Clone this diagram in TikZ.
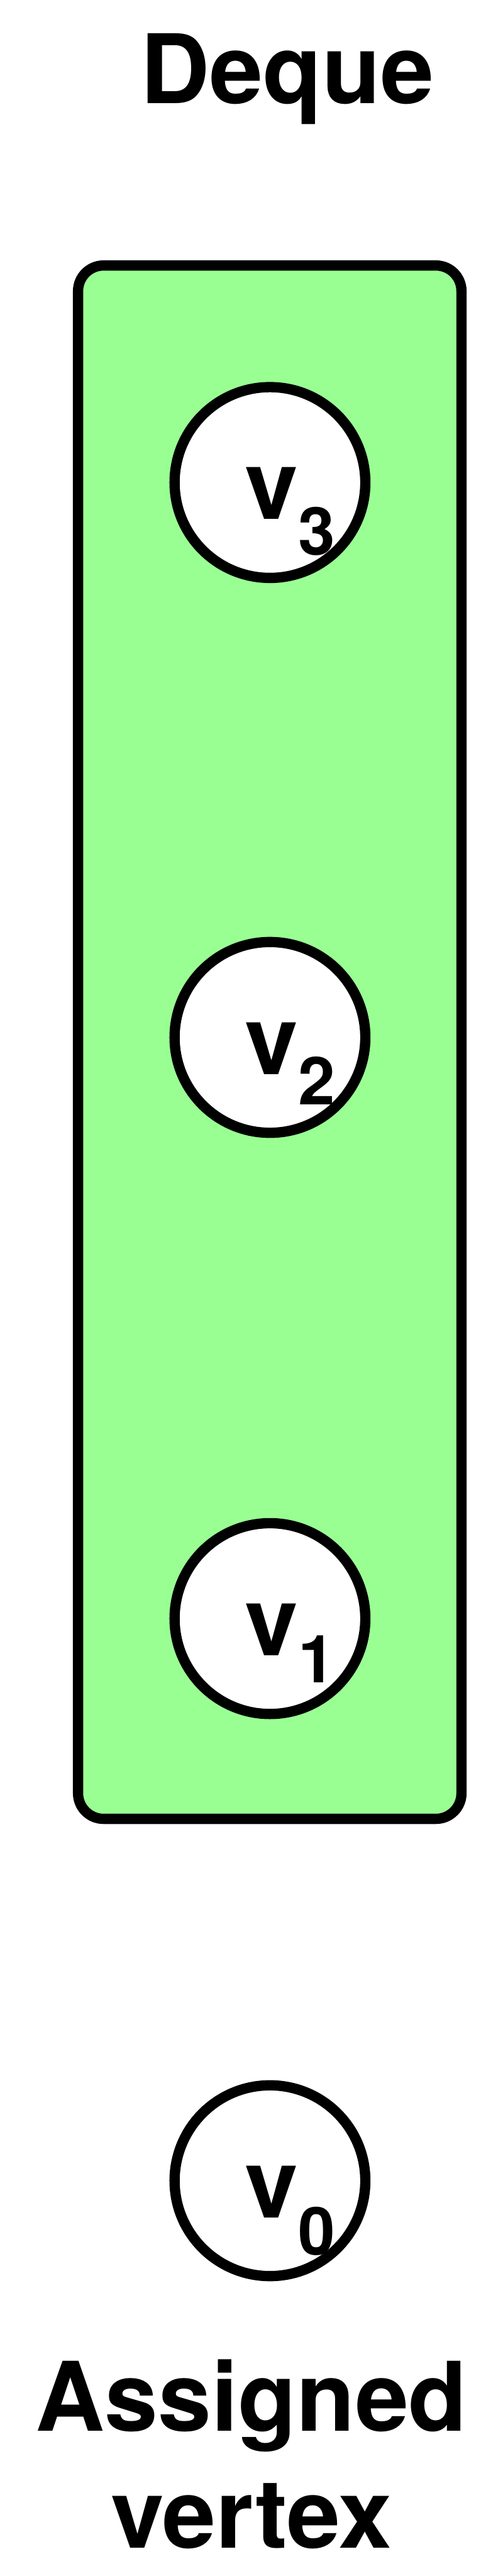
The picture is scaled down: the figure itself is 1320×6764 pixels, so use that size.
\documentclass[tikz,border=0pt]{standalone}
\usepackage{fontspec}
\setmainfont{TeX Gyre Heros}
\definecolor{dqgreen}{RGB}{153,255,147}
\newcommand{\vlab}[2]{{\fontsize{25.2}{25.2}\selectfont v}\raisebox{-#2pt}{\fontsize{17.4}{17.4}\selectfont #1}}
\begin{document}
\begin{tikzpicture}[x=0.1pt,y=-0.1pt, line width=2.7pt, font=\bfseries,
  vert/.style={circle, draw=black, fill=white, minimum size=50.1pt, inner sep=0pt},
  dequebox/.style={draw=black, fill=dqgreen, rounded corners=6.7pt, inner sep=0pt},
  bigtext/.style={font=\bfseries\fontsize{25.2}{30.6}\selectfont, inner sep=0pt, text=black},
  vtext/.style={inner sep=0pt, anchor=base west, font=\bfseries}]
\useasboundingbox (0,0) rectangle (1320,6764);
\node[dequebox, minimum width=100.7pt, minimum height=407.9pt] (deque) at (708.5,2736.5) {};
\node[vert] (c3) at (709,1267) {};
\node[vert] (c2) at (709,2724) {};
\node[vert] (c1) at (709,4250) {};
\node[vert] (c0) at (709,5726) {};
\node[vtext] (l3) at (630,1364) {\vlab{3}{9.3}};
\node[vtext] (l2) at (630,2821) {\vlab{2}{7.9}};
\node[vtext] (l1) at (630,4347) {\vlab{1}{7.1}};
\node[vtext] (l0) at (630,5823) {\vlab{0}{9.8}};
\node[bigtext, anchor=base] (title) at (755,272) {Deque};
\node[bigtext, anchor=base, align=center] (assigned) at (660,6690) {Assigned\\vertex};
\end{tikzpicture}
\end{document}
